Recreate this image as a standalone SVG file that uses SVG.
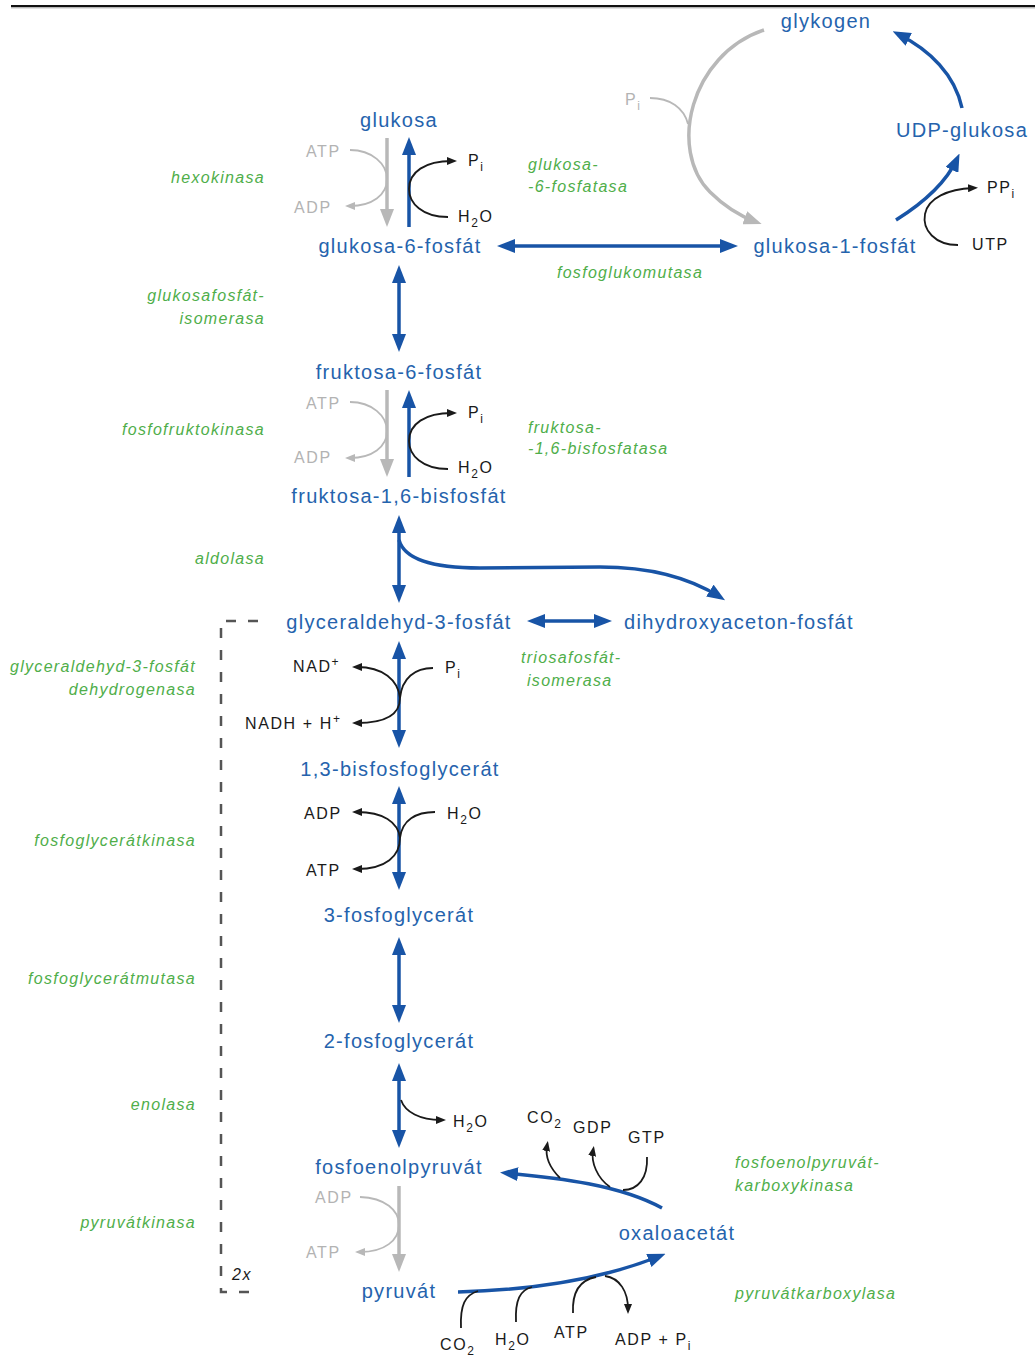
<svg xmlns="http://www.w3.org/2000/svg" width="1035" height="1358" viewBox="0 0 1035 1358">
<style>
text{font-family:"Liberation Sans",Arial,sans-serif}
.n{font-size:20px;fill:#2563ad;letter-spacing:1.3px;text-anchor:middle}
.e{font-size:16px;fill:#4fae4a;font-style:italic;letter-spacing:1.3px}
.k{font-size:16px;fill:#1a1a1a;letter-spacing:1.6px}
.g{font-size:16px;fill:#b3b3b3;letter-spacing:1.6px}
.end{text-anchor:end}
.mid{text-anchor:middle}
.b{fill:none;stroke:#1854a6;stroke-width:3.5}
.gr{fill:none;stroke:#b8b8b8;stroke-width:3.5}
.kc{fill:none;stroke:#1a1a1a;stroke-width:1.8}
.gc{fill:none;stroke:#b8b8b8;stroke-width:1.8}
.s{font-size:12px}
</style>
<defs>
<marker id="bh" markerUnits="userSpaceOnUse" markerWidth="18" markerHeight="14" refX="12" refY="7" orient="auto-start-reverse"><path d="M0,0 L18,7 L0,14 z" fill="#1854a6"/></marker>
<marker id="gh" markerUnits="userSpaceOnUse" markerWidth="18" markerHeight="14" refX="12" refY="7" orient="auto-start-reverse"><path d="M0,0 L18,7 L0,14 z" fill="#b8b8b8"/></marker>
<marker id="kh" markerUnits="userSpaceOnUse" markerWidth="10" markerHeight="8" refX="5" refY="4" orient="auto"><path d="M0,0 L10,4 L0,8 z" fill="#1a1a1a"/></marker>
<marker id="sgh" markerUnits="userSpaceOnUse" markerWidth="10" markerHeight="8" refX="5" refY="4" orient="auto"><path d="M0,0 L10,4 L0,8 z" fill="#b8b8b8"/></marker>
</defs>
<rect width="1035" height="1358" fill="#fff"/>
<line x1="11" y1="6" x2="1035" y2="6" stroke="#111" stroke-width="2.2"/>
<line x1="11" y1="7.8" x2="1035" y2="7.8" stroke="#999" stroke-width="1"/>

<g id="connectors">
<!-- glucose step -->
<path class="gr" d="M387,138 L387,221" marker-end="url(#gh)"/>
<path class="b" d="M409,227 L409,143" marker-end="url(#bh)"/>
<path class="gc" d="M350,150 C372,150 387,164 387,179 C387,195 372,206 350,206" marker-end="url(#sgh)"/>
<path class="kc" d="M448,217 C422,217 409,203 409,189 C409,172 425,161 452,161" marker-end="url(#kh)"/>
<!-- fructose step -->
<path class="gr" d="M387,390 L387,471" marker-end="url(#gh)"/>
<path class="b" d="M409,477 L409,396" marker-end="url(#bh)"/>
<path class="gc" d="M350,402 C372,402 387,416 387,431 C387,447 372,458 350,458" marker-end="url(#sgh)"/>
<path class="kc" d="M448,469 C422,469 409,455 409,441 C409,424 425,413 452,413" marker-end="url(#kh)"/>
<!-- reversible steps -->
<path class="b" d="M399,271 L399,346" marker-start="url(#bh)" marker-end="url(#bh)"/>
<path class="b" d="M503,246 L732,246" marker-start="url(#bh)" marker-end="url(#bh)"/>
<path class="b" d="M399,521 L399,597" marker-start="url(#bh)" marker-end="url(#bh)"/>
<path class="b" d="M399,540 C405,562 440,568 480,568 L600,567 C650,567 690,578 720,597" marker-end="url(#bh)"/>
<path class="b" d="M533,621 L606,621" marker-start="url(#bh)" marker-end="url(#bh)"/>
<path class="b" d="M399,647 L399,742" marker-start="url(#bh)" marker-end="url(#bh)"/>
<path class="kc" d="M433,668 C415,668 402,678 400,698"/>
<path class="kc" d="M400,698 C398,680 383,667 357,667" marker-end="url(#kh)"/>
<path class="kc" d="M400,698 C400,714 386,723 357,723" marker-end="url(#kh)"/>
<path class="b" d="M399,792 L399,884" marker-start="url(#bh)" marker-end="url(#bh)"/>
<path class="kc" d="M435,812 C416,812 402,820 400,838"/>
<path class="kc" d="M400,838 C398,822 383,812 357,812" marker-end="url(#kh)"/>
<path class="kc" d="M400,838 C400,856 386,869 357,869" marker-end="url(#kh)"/>
<path class="b" d="M399,943 L399,1017" marker-start="url(#bh)" marker-end="url(#bh)"/>
<path class="b" d="M399,1069 L399,1142" marker-start="url(#bh)" marker-end="url(#bh)"/>
<path class="kc" d="M401,1100 C405,1112 420,1120 441,1120" marker-end="url(#kh)"/>
<!-- pyruvate kinase -->
<path class="gr" d="M399,1186 L399,1266" marker-end="url(#gh)"/>
<path class="gc" d="M360,1197 C385,1198 399,1210 399,1225 C399,1240 385,1252 360,1252" marker-end="url(#sgh)"/>
<!-- glycogen cycle -->
<path class="b" d="M896,220 C920,205 945,185 957,159" marker-end="url(#bh)"/>
<path class="kc" d="M958,245 C935,245 922,230 925,214 C928,198 948,189 973,188" marker-end="url(#kh)"/>
<path class="b" d="M962,108 C955,75 930,50 898,34" marker-end="url(#bh)"/>
<path class="gr" d="M764,30 C690,55 668,150 710,192 C725,207 740,216 756,222" marker-end="url(#gh)"/>
<path class="gc" d="M650,98 C670,98 684,108 688,124"/>
<!-- PEPCK -->
<path class="b" d="M662,1208 C620,1185 560,1178 506,1173" marker-end="url(#bh)"/>
<path class="kc" d="M560,1178 C550,1168 545,1157 547,1146" marker-end="url(#kh)"/>
<path class="kc" d="M610,1187 C597,1178 591,1162 593,1151" marker-end="url(#kh)"/>
<path class="kc" d="M647,1157 C648,1178 638,1190 623,1190"/>
<!-- pyruvate carboxylase -->
<path class="b" d="M458,1292 C530,1290 600,1280 660,1256" marker-end="url(#bh)"/>
<path class="kc" d="M461,1328 C460,1305 465,1295 478,1291"/>
<path class="kc" d="M516,1322 C515,1300 520,1290 532,1287"/>
<path class="kc" d="M573,1313 C572,1292 580,1280 596,1277"/>
<path class="kc" d="M605,1276 C620,1278 628,1292 628,1309" marker-end="url(#kh)"/>
<!-- 2x bracket -->
<path d="M258,621 L221,621 L221,1292 L258,1292" fill="none" stroke="#555" stroke-width="2.5" stroke-dasharray="10 12"/>
</g>

<g id="glykogen"><text class="n" x="826" y="28">glykogen</text></g>
<g id="glukosa"><text class="n" x="399" y="127">glukosa</text></g>
<g id="udp-glukosa"><text class="n" x="962" y="137">UDP-glukosa</text></g>
<g id="glukosa-6-fosfat"><text class="n" x="400" y="253">glukosa-6-fosfát</text></g>
<g id="glukosa-1-fosfat"><text class="n" x="835" y="253">glukosa-1-fosfát</text></g>
<g id="fruktosa-6-fosfat"><text class="n" x="399" y="379">fruktosa-6-fosfát</text></g>
<g id="fruktosa-16-bisfosfat"><text class="n" x="399" y="503">fruktosa-1,6-bisfosfát</text></g>
<g id="glyceraldehyd-3-fosfat"><text class="n" x="399" y="629">glyceraldehyd-3-fosfát</text></g>
<g id="dihydroxyaceton-fosfat"><text class="n" x="739" y="629">dihydroxyaceton-fosfát</text></g>
<g id="bisfosfoglycerat"><text class="n" x="400" y="776">1,3-bisfosfoglycerát</text></g>
<g id="3-fosfoglycerat"><text class="n" x="399" y="922">3-fosfoglycerát</text></g>
<g id="2-fosfoglycerat"><text class="n" x="399" y="1048">2-fosfoglycerát</text></g>
<g id="fosfoenolpyruvat"><text class="n" x="399" y="1174">fosfoenolpyruvát</text></g>
<g id="oxaloacetat"><text class="n" x="677" y="1240">oxaloacetát</text></g>
<g id="pyruvat"><text class="n" x="399" y="1298">pyruvát</text></g>

<g id="enzymes">
<text class="e end" x="265" y="183">hexokinasa</text>
<text class="e" x="528" y="170">glukosa-</text>
<text class="e" x="528" y="192">-6-fosfatasa</text>
<text class="e mid" x="630" y="278">fosfoglukomutasa</text>
<text class="e end" x="265" y="301">glukosafosfát-</text>
<text class="e end" x="265" y="324">isomerasa</text>
<text class="e end" x="265" y="435">fosfofruktokinasa</text>
<text class="e" x="528" y="433">fruktosa-</text>
<text class="e" x="528" y="454">-1,6-bisfosfatasa</text>
<text class="e end" x="265" y="564">aldolasa</text>
<text class="e end" x="196" y="672">glyceraldehyd-3-fosfát</text>
<text class="e end" x="196" y="695">dehydrogenasa</text>
<text class="e" x="521" y="663">triosafosfát-</text>
<text class="e" x="527" y="686">isomerasa</text>
<text class="e end" x="196" y="846">fosfoglycerátkinasa</text>
<text class="e end" x="196" y="984">fosfoglycerátmutasa</text>
<text class="e end" x="196" y="1110">enolasa</text>
<text class="e end" x="196" y="1228">pyruvátkinasa</text>
<text class="e" x="735" y="1168">fosfoenolpyruvát-</text>
<text class="e" x="735" y="1191">karboxykinasa</text>
<text class="e" x="735" y="1299">pyruvátkarboxylasa</text>
</g>

<g id="cofactors">
<text class="g" x="306" y="157">ATP</text>
<text class="g" x="294" y="213">ADP</text>
<text class="k" x="468" y="166">P<tspan class="s" dy="5">i</tspan></text>
<text class="k" x="458" y="222">H<tspan class="s" dy="5">2</tspan><tspan dy="-5">O</tspan></text>
<text class="g" x="306" y="409">ATP</text>
<text class="g" x="294" y="463">ADP</text>
<text class="k" x="468" y="418">P<tspan class="s" dy="5">i</tspan></text>
<text class="k" x="458" y="473">H<tspan class="s" dy="5">2</tspan><tspan dy="-5">O</tspan></text>
<text class="g" x="625" y="105">P<tspan class="s" dy="5">i</tspan></text>
<text class="k" x="987" y="193">PP<tspan class="s" dy="5">i</tspan></text>
<text class="k" x="972" y="250">UTP</text>
<text class="k" x="293" y="672">NAD<tspan class="s" dy="-6">+</tspan></text>
<text class="k" x="445" y="673">P<tspan class="s" dy="5">i</tspan></text>
<text class="k" x="245" y="729">NADH + H<tspan class="s" dy="-6">+</tspan></text>
<text class="k" x="304" y="819">ADP</text>
<text class="k" x="447" y="819">H<tspan class="s" dy="5">2</tspan><tspan dy="-5">O</tspan></text>
<text class="k" x="306" y="876">ATP</text>
<text class="k" x="453" y="1127">H<tspan class="s" dy="5">2</tspan><tspan dy="-5">O</tspan></text>
<text class="k" x="527" y="1123">CO<tspan class="s" dy="5">2</tspan></text>
<text class="k" x="573" y="1133">GDP</text>
<text class="k" x="628" y="1143">GTP</text>
<text class="g" x="315" y="1203">ADP</text>
<text class="g" x="306" y="1258">ATP</text>
<text class="k" x="440" y="1350">CO<tspan class="s" dy="5">2</tspan></text>
<text class="k" x="495" y="1345">H<tspan class="s" dy="5">2</tspan><tspan dy="-5">O</tspan></text>
<text class="k" x="554" y="1338">ATP</text>
<text class="k" x="615" y="1345">ADP + P<tspan class="s" dy="5">i</tspan></text>
<text class="k" x="232" y="1280" font-style="italic">2x</text>
</g>
</svg>
